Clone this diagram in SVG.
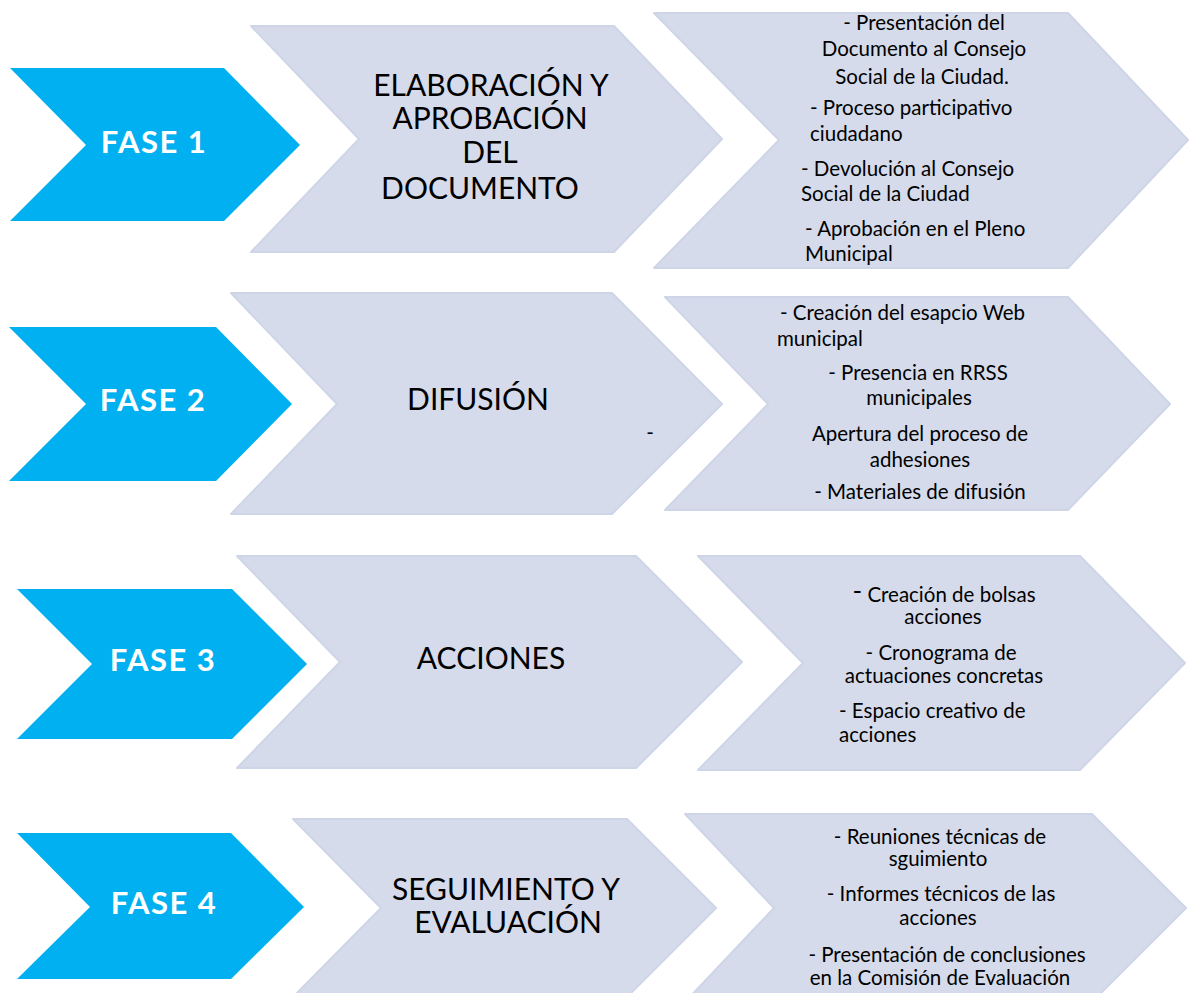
<svg xmlns="http://www.w3.org/2000/svg" width="1190" height="993" viewBox="0 0 1190 993">
<style>
.blue{fill:#00B0F0;}
.gray{fill:#D5DBEA;stroke:#CED5E7;stroke-width:2;stroke-linejoin:round;}
.fase{font-family:Lato,"Open Sans",sans-serif;font-weight:bold;font-size:31px;letter-spacing:1.5px;fill:#FFFFFF;text-anchor:middle;}
.mid{font-family:Lato,"Open Sans",sans-serif;font-size:30px;fill:#000000;text-anchor:middle;}
.r{font-family:Lato,"Open Sans",sans-serif;font-size:20.5px;fill:#000000;}
.c{text-anchor:middle;}
</style>
<rect width="1190" height="993" fill="#FFFFFF"/>

<g id="fase1">
<polygon class="blue" points="10,68 224,68 300,145 224,221 10,221 86,145"/>
<text class="fase" x="154" y="153">FASE 1</text>
</g>
<g id="elaboracion">
<polygon class="gray" points="251,26 614,26 722,139 614,252 251,252 359,139"/>
<text class="mid" x="491" y="96">ELABORACIÓN Y</text>
<text class="mid" x="490" y="129">APROBACIÓN</text>
<text class="mid" x="490" y="163">DEL</text>
<text class="mid" x="480" y="199">DOCUMENTO</text>
</g>
<g id="tareas1">
<polygon class="gray" points="654,13 1068,13 1188,140 1068,268 654,268 779,140"/>
<text class="r c" x="924" y="30">- Presentación del</text>
<text class="r c" x="924" y="56">Documento al Consejo</text>
<text class="r c" x="922" y="84">Social de la Ciudad.</text>
<text class="r" x="810" y="115">- Proceso participativo</text>
<text class="r" x="810" y="141">ciudadano</text>
<text class="r" x="801" y="176">- Devolución al Consejo</text>
<text class="r" x="801" y="201">Social de la Ciudad</text>
<text class="r" x="805" y="236">- Aprobación en el Pleno</text>
<text class="r" x="805" y="261">Municipal</text>
</g>

<g id="fase2">
<polygon class="blue" points="9,327 216,327 292,404 216,481 9,481 86,404"/>
<text class="fase" x="153" y="411">FASE 2</text>
</g>
<g id="difusion">
<polygon class="gray" points="231,293 612,293 722,404 612,514 231,514 337,404"/>
<text class="mid" x="478" y="410">DIFUSIÓN</text>
<text class="r c" x="650" y="440">-</text>
</g>
<g id="tareas2">
<polygon class="gray" points="665,297 1068,297 1170,404 1068,510 665,510 768,404"/>
<text class="r" x="780" y="320">- Creación del esapcio Web</text>
<text class="r" x="777" y="346">municipal</text>
<text class="r c" x="918" y="380">- Presencia en RRSS</text>
<text class="r c" x="919" y="405">municipales</text>
<text class="r c" x="920" y="441">Apertura del proceso de</text>
<text class="r c" x="920" y="467">adhesiones</text>
<text class="r c" x="920" y="499">- Materiales de difusión</text>
</g>

<g id="fase3">
<polygon class="blue" points="17,589 232,589 307,664 232,739 17,739 92,664"/>
<text class="fase" x="163" y="671">FASE 3</text>
</g>
<g id="acciones">
<polygon class="gray" points="237,556 636,556 742,662 636,768 237,768 340,662"/>
<text class="mid" x="491" y="669">ACCIONES</text>
</g>
<g id="tareas3">
<polygon class="gray" points="698,556 1080,556 1185,663 1080,770 698,770 803,663"/>
<text class="r c" x="944" y="602"><tspan font-size="26" dy="-2">-</tspan><tspan dy="2"> Creación de bolsas</tspan></text>
<text class="r c" x="943" y="624">acciones</text>
<text class="r c" x="941" y="660">- Cronograma de</text>
<text class="r c" x="944" y="683">actuaciones concretas</text>
<text class="r" x="839" y="718">- Espacio creativo de</text>
<text class="r" x="839" y="742">acciones</text>
</g>

<g id="fase4">
<polygon class="blue" points="17,833 231,833 304,907 231,979 17,979 90,907"/>
<text class="fase" x="164" y="914">FASE 4</text>
</g>
<g id="seguimiento">
<polygon class="gray" points="293,819 627,819 716,908 627,997 293,997 381,908"/>
<text class="mid" x="506" y="900">SEGUIMIENTO Y</text>
<text class="mid" x="508" y="933">EVALUACIÓN</text>
</g>
<g id="tareas4">
<polygon class="gray" points="685,814 1092,814 1186,908 1092,1002 685,1002 774,908"/>
<text class="r c" x="940" y="844">- Reuniones técnicas de</text>
<text class="r c" x="938" y="866">sguimiento</text>
<text class="r c" x="941" y="901">- Informes técnicos de las</text>
<text class="r c" x="938" y="925">acciones</text>
<text class="r c" x="947" y="962">- Presentación de conclusiones</text>
<text class="r c" x="940" y="985">en la Comisión de Evaluación</text>
</g>
</svg>
